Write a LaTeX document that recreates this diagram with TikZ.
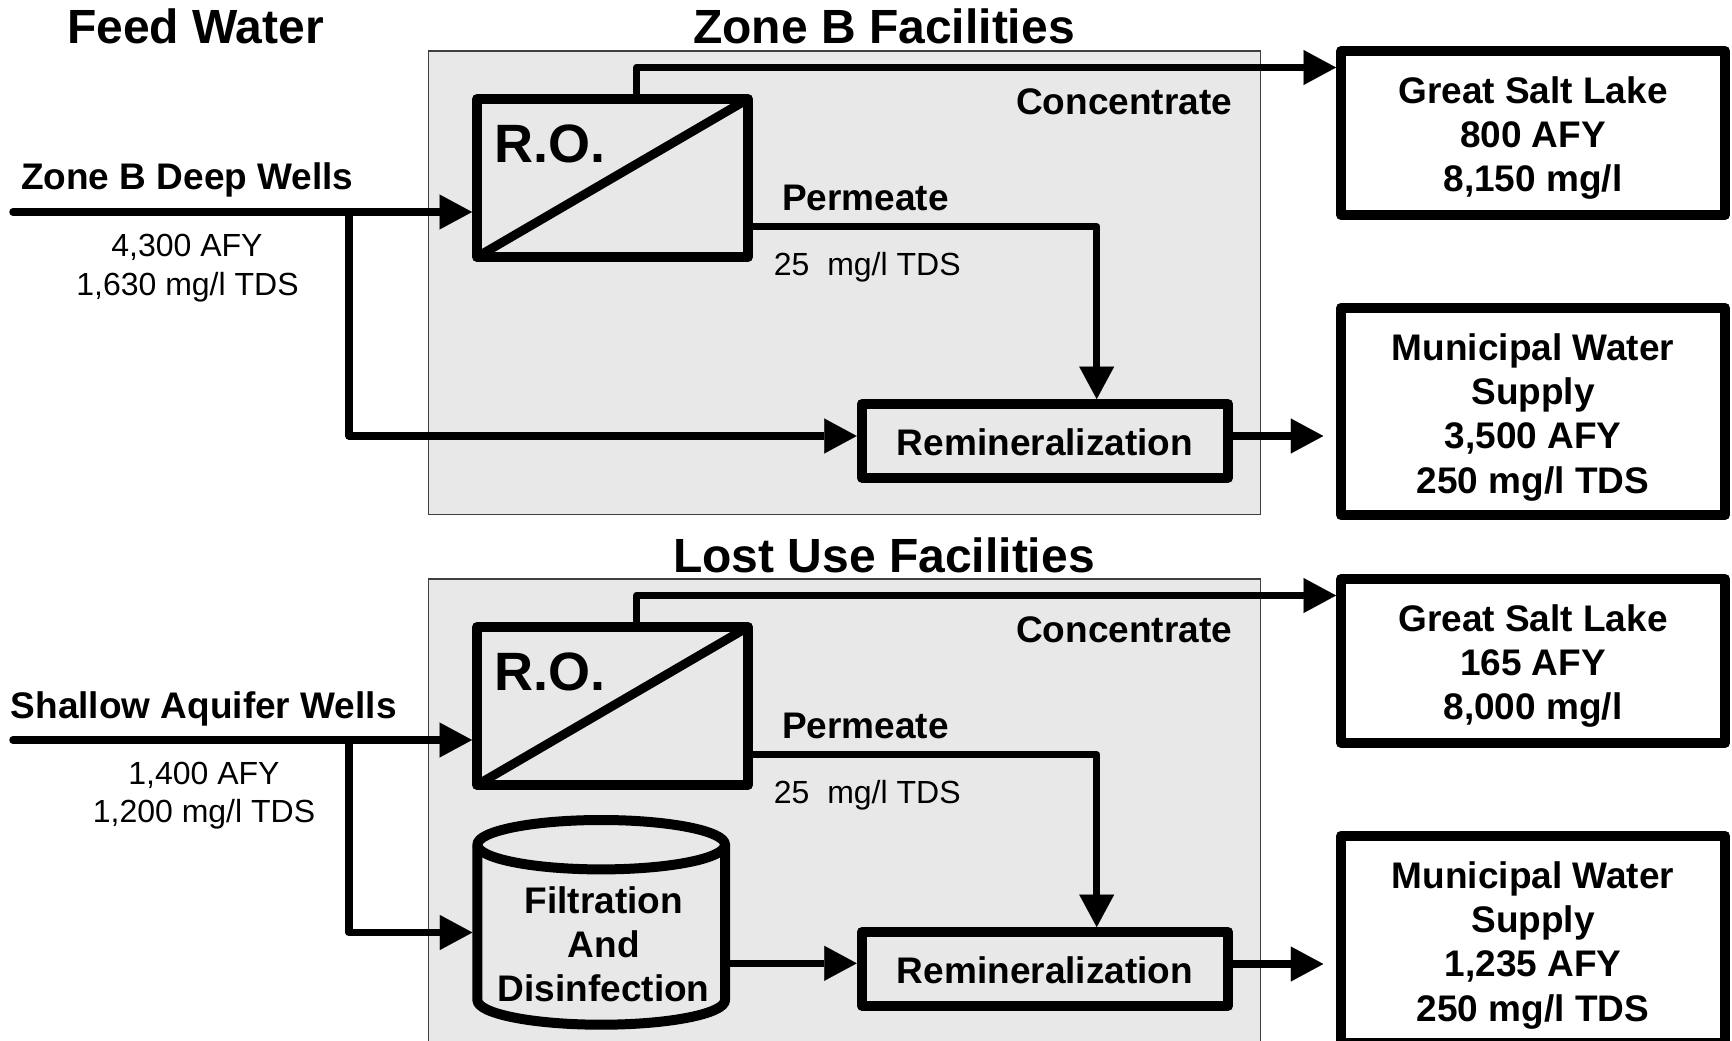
\documentclass[tikz,border=0pt]{standalone}
\usepackage{fontspec}
\setmainfont{Liberation Sans}
\usetikzlibrary{arrows.meta,calc}
\definecolor{panel}{RGB}{232,232,232}
\definecolor{panelline}{RGB}{64,64,64}
\begin{document}
\begin{tikzpicture}[x=1pt,y=-1pt,
  panelbox/.style={draw=panelline, line width=1.5pt, fill=panel, inner sep=0pt, outer sep=0pt},
  unitbox/.style={draw=black, line width=10pt, fill=panel, line join=round, inner sep=0pt, outer sep=5pt},
  endbox/.style={draw=black, line width=10pt, fill=white, line join=round, inner sep=0pt, outer sep=5pt},
  conn/.style={line width=7.5pt, line join=round, -{Triangle[length=32.5pt,width=35pt,line width=0.1pt]}},
  diag/.style={line width=9pt},
  cylline/.style={line width=10pt, line join=round},
  lbl/.style={font=\fontsize{37}{44}\selectfont\bfseries, inner sep=0pt, anchor=base},
  num/.style={font=\fontsize{32}{38}\selectfont, inner sep=0pt, anchor=base},
  ttl/.style={font=\fontsize{48}{56}\selectfont\bfseries, inner sep=0pt, anchor=base},
  rolbl/.style={font=\fontsize{54}{60}\selectfont\bfseries, inner sep=0pt, anchor=base west}]
\useasboundingbox (0,0) rectangle (1732,1041);
\clip (0,0) rectangle (1732,1041);

% ---------------- panels ----------------
\node[panelbox, minimum width=832.1pt, minimum height=463.5pt] (zb) at (844.65,282.75) {};
\node[panelbox, minimum width=832.1pt, minimum height=463.5pt] (lu) at (844.65,810.75) {};

% ---------------- top section ----------------
\node[unitbox, minimum width=271pt, minimum height=158pt] (ro1) at (612.5,178) {};
\draw[diag] ([shift={(5,-5)}]ro1.south west) -- ([shift={(-5,5)}]ro1.north east);
\node[unitbox, minimum width=366.6pt, minimum height=73.7pt] (rm1) at (1045,440.85) {};
\node[endbox, minimum width=384pt, minimum height=164pt] (gsl1) at (1533,133) {};
\node[endbox, minimum width=384pt, minimum height=207.3pt] (mun1) at (1533,411.35) {};

\coordinate (src1) at (13,212);
\coordinate (j1) at (349,212);
\draw[conn, line cap=round] (src1) -- ([yshift=-34pt]ro1.west);
\draw[conn] (j1) |- ([yshift=4.85pt]rm1.west);
\draw[conn] ([xshift=24.2pt]ro1.north) |- ([yshift=65.5pt]gsl1.west);
\draw[conn] ([yshift=-48.7pt]ro1.east) -| ([xshift=51.7pt]rm1.north);
\draw[conn] ([yshift=4.85pt]rm1.east) -- ([xshift=-12.7pt,yshift=-24.65pt]mun1.west);

\node[ttl] (t1) at (195.5,44) {Feed Water};
\node[ttl] (t2) at (884,44) {Zone B Facilities};
\node[lbl] (w1) at (187.3,189.3) {Zone B Deep Wells};
\node[num] (q1a) at (187,256.7) {4,300 AFY};
\node[num] (q1b) at (187.5,295) {1,630 mg/l TDS};
\node[rolbl] (ro1t) at (494.2,162.3) {R.O.};
\node[lbl] (c1t) at (1124,114) {Concentrate};
\node[lbl, anchor=base west] (p1t) at (782,210) {Permeate};
\node[num, anchor=base west] (p1q) at (773.7,275) {25~~mg/l TDS};
\node[lbl] (rm1t) at (1045,455) {Remineralization};
\node[lbl] (g1a) at (1533,103.3) {Great Salt Lake};
\node[lbl] (g1b) at (1533,147.5) {800 AFY};
\node[lbl] (g1c) at (1533,191.7) {8,150 mg/l};
\node[lbl] (m1a) at (1533,360) {Municipal Water};
\node[lbl] (m1b) at (1533,404.4) {Supply};
\node[lbl] (m1c) at (1533,448.8) {3,500 AFY};
\node[lbl] (m1d) at (1533,493.2) {250 mg/l TDS};

% ---------------- bottom section ----------------
\node[unitbox, minimum width=271pt, minimum height=158pt] (ro2) at (612.5,706) {};
\draw[diag] ([shift={(5,-5)}]ro2.south west) -- ([shift={(-5,5)}]ro2.north east);
\node[unitbox, minimum width=366.6pt, minimum height=73.7pt] (rm2) at (1045,968.85) {};
\node[endbox, minimum width=384pt, minimum height=164pt] (gsl2) at (1533,661) {};
\node[endbox, minimum width=384pt, minimum height=207.3pt] (mun2) at (1533,939.35) {};

% filtration cylinder
\draw[cylline, fill=panel] (477.35,844.7) -- (477.35,1000)
  arc[start angle=180, end angle=360, x radius=123.85pt, y radius=24.7pt]
  -- (725.05,844.7)
  arc[start angle=0, end angle=180, x radius=123.85pt, y radius=24.7pt] -- cycle;
\draw[cylline] (477.35,844.7) arc[start angle=180, end angle=360, x radius=123.85pt, y radius=24.7pt];
\node[inner sep=0pt, outer sep=0pt, minimum width=257.7pt, minimum height=215pt] (fd) at (601.2,922.5) {};

\coordinate (src2) at (13,740);
\coordinate (j2) at (349,740);
\draw[conn, line cap=round] (src2) -- ([yshift=-34pt]ro2.west);
\draw[conn] (j2) |- ([yshift=-10pt]fd.west);
\draw[conn] ([xshift=24.2pt]ro2.north) |- ([yshift=65.5pt]gsl2.west);
\draw[conn] ([yshift=-48.7pt]ro2.east) -| ([xshift=51.7pt]rm2.north);
\draw[conn] ([yshift=-40.8pt]fd.east) -- ([yshift=5.55pt]rm2.west);
\draw[conn] ([yshift=4.85pt]rm2.east) -- ([xshift=-12.7pt,yshift=-24.65pt]mun2.west);

\node[ttl] (t3) at (884,572) {Lost Use Facilities};
\node[lbl] (w2) at (203.7,718) {Shallow Aquifer Wells};
\node[num] (q2a) at (204,784) {1,400 AFY};
\node[num] (q2b) at (204,822) {1,200 mg/l TDS};
\node[rolbl] (ro2t) at (494.2,690.3) {R.O.};
\node[lbl] (c2t) at (1124,642) {Concentrate};
\node[lbl, anchor=base west] (p2t) at (782,738) {Permeate};
\node[num, anchor=base west] (p2q) at (773.7,803) {25~~mg/l TDS};
\node[lbl] (fd1) at (603.7,913.5) {Filtration};
\node[lbl] (fd2) at (603.7,957.5) {And};
\node[lbl] (fd3) at (603.7,1001.5) {Disinfection};
\node[lbl] (rm2t) at (1045,983) {Remineralization};
\node[lbl] (g2a) at (1533,631.3) {Great Salt Lake};
\node[lbl] (g2b) at (1533,675.5) {165 AFY};
\node[lbl] (g2c) at (1533,719.7) {8,000 mg/l};
\node[lbl] (m2a) at (1533,888) {Municipal Water};
\node[lbl] (m2b) at (1533,932.4) {Supply};
\node[lbl] (m2c) at (1533,976.8) {1,235 AFY};
\node[lbl] (m2d) at (1533,1021.2) {250 mg/l TDS};
\end{tikzpicture}
\end{document}
